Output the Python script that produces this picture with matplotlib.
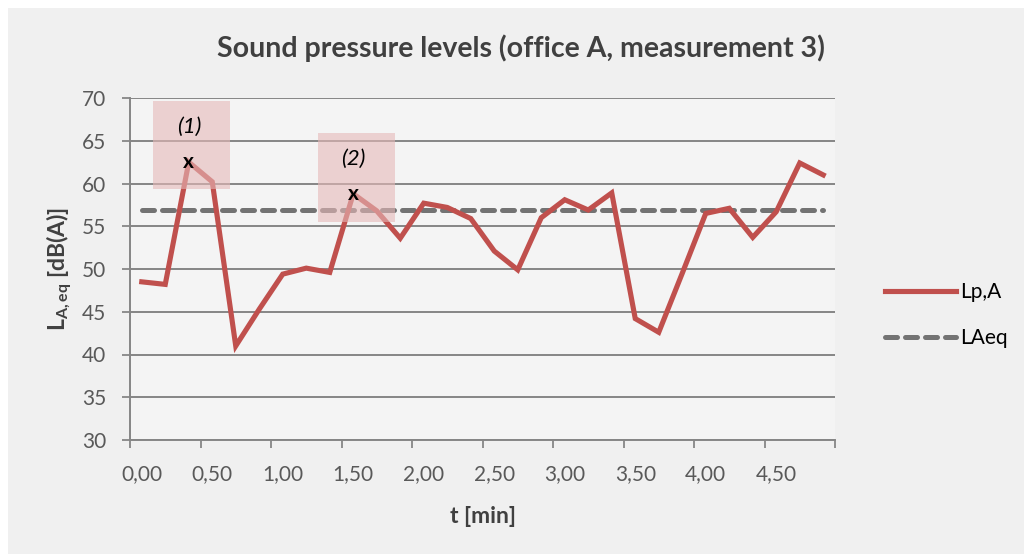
import numpy as np
import matplotlib.pyplot as plt
from matplotlib.patches import Rectangle

# data (10 s steps, 30 samples)
t_min = [i / 6 for i in range(30)]
lp_a = [48.5, 48.2, 62.5, 60.2, 41.0, 45.3, 49.4, 50.1, 49.6, 58.8,
        56.8, 53.6, 57.7, 57.2, 55.9, 52.1, 49.9, 56.0, 58.1, 56.9,
        58.9, 44.2, 42.6, 49.5, 56.5, 57.1, 53.7, 56.7, 62.4, 61.0]
laeq = 56.9
marked = [2, 9]
marker_labels = ['(1)', '(2)']

plt.rcParams['font.family'] = ['Lato', 'DejaVu Sans']
plt.rcParams['mathtext.fontset'] = 'custom'
plt.rcParams['mathtext.rm'] = 'Lato'
plt.rcParams['mathtext.bf'] = 'Lato:bold'
plt.rcParams['mathtext.it'] = 'Lato:italic'

fig = plt.figure(figsize=(10.24, 5.54), dpi=100, facecolor='white')
fig.patches.append(Rectangle((8 / 1024, 0), 1, 1 - 8 / 554, transform=fig.transFigure,
                             facecolor='#F0F0F0', edgecolor='none', zorder=-10))
ax = fig.add_axes([130 / 1024, 1 - 440 / 554, 705 / 1024, 342 / 554])
ax.set_facecolor('#F4F4F4')

x = np.arange(len(lp_a))
ax.plot(x, lp_a, color='#C0504D', lw=3.7, solid_joinstyle='miter', zorder=4, label='Lp,A')
ax.plot([x[0], x[-1]], [laeq, laeq], color='#737373', lw=3.6, linestyle=(0, (2.4, 1.6)),
        dash_capstyle='round', zorder=3, label='LAeq')

# highlighted peaks
boxes = [(0.48, 59.4, 3.28, 10.25), (7.5, 55.5, 3.28, 10.4)]
for (bx, by, bw, bh), i, lab in zip(boxes, marked, marker_labels):
    ax.add_patch(Rectangle((bx, by), bw, bh, facecolor='#E6B9B8', alpha=0.6,
                           edgecolor='none', zorder=5))
    ax.text(i, lp_a[i], 'x', ha='center', va='center', fontsize=15, fontweight='bold',
            color='black', zorder=6)
    ax.text(i, by + bh - 3.0, lab, ha='center', va='center', fontsize=16,
            fontstyle='italic', color='black', zorder=6)

ax.set_xlim(-0.5, 29.5)
ax.set_ylim(30, 70)
ax.set_yticks(range(30, 71, 5))
ax.set_xticks(np.arange(-0.5, 30, 3))
ax.set_xticklabels([])
ax.set_xticks(x[::3], minor=True)
ax.set_xticklabels([f'{v:.2f}'.replace('.', ',') for v in t_min[::3]], minor=True)
ax.tick_params(axis='x', which='major', length=6, width=1.3, color='#868686')
ax.tick_params(axis='x', which='minor', length=0, pad=17, labelsize=15, labelcolor='#595959')
ax.tick_params(axis='y', length=6, width=1.3, color='#868686', pad=11,
               labelsize=15, labelcolor='#595959')
ax.grid(axis='y', color='#868686', lw=1.4)
ax.set_axisbelow(True)
for s in ['top', 'right']:
    ax.spines[s].set_visible(False)
for s in ['left', 'bottom']:
    ax.spines[s].set_color('#868686')
    ax.spines[s].set_linewidth(1.4)

fig.text(521 / 1024, 1 - 48 / 554, 'Sound pressure levels (office A, measurement 3)',
         fontsize=20.5, fontweight='bold', color='#404040', ha='center', va='center')
ax.set_xlabel('t [min]', fontsize=16.5, fontweight='bold', color='#404040', labelpad=16)
ax.set_ylabel(r'$\mathbf{L_{A,eq}}$ [dB(A)]', fontsize=16.5, fontweight='bold',
              color='#404040')
ax.yaxis.set_label_coords(-0.08, 0.5)

ax.legend(loc='center left', bbox_to_anchor=(866 / 1024, 1 - 315 / 554),
          bbox_transform=fig.transFigure, frameon=False, fontsize=15,
          handlelength=3.4, handletextpad=0.2, labelspacing=1.25)

fig.savefig('out.png', dpi=100, facecolor=fig.get_facecolor())
